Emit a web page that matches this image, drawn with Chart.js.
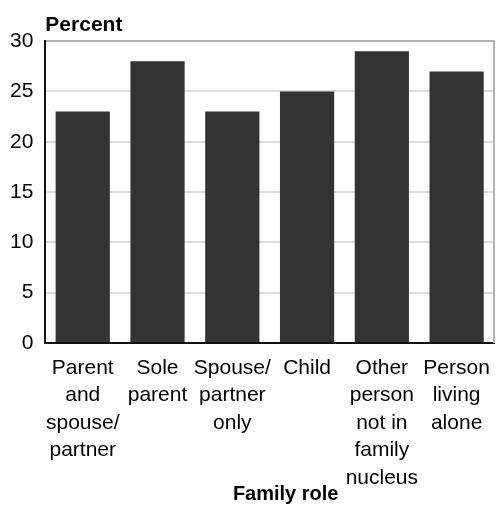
<!DOCTYPE html>
<html>
<head>
<meta charset="utf-8">
<script src="https://cdn.jsdelivr.net/npm/chart.js@4"></script>
<style>
  html, body { margin: 0; padding: 0; background: #fff; }
  #wrap { width: 496px; height: 505px; position: relative; }
</style>
</head>
<body>
<div id="wrap"><canvas id="c" width="496" height="505"></canvas></div>
<script>
const categories = [
  ["Parent", "and", "spouse/", "partner"],
  ["Sole", "parent"],
  ["Spouse/", "partner", "only"],
  ["Child"],
  ["Other", "person", "not in", "family", "nucleus"],
  ["Person", "living", "alone"]
];
const percentValues = [23, 28, 23, 25, 29, 27];
const yTicks = [0, 5, 10, 15, 20, 25, 30];
const yAxisTitle = "Percent";
const xAxisTitle = "Family role";

const FONT = "'Liberation Sans', Arial, sans-serif";

const framePlugin = {
  id: 'frame',
  beforeDatasetsDraw(chart) {
    const { ctx, chartArea: a } = chart;
    ctx.save();
    ctx.strokeStyle = '#b3b3b3';
    ctx.lineWidth = 2;
    ctx.beginPath();
    ctx.moveTo(a.right, a.top - 1);
    ctx.lineTo(a.right, a.bottom);
    ctx.stroke();
    ctx.restore();
  },
  afterDraw(chart) {
    const { ctx, chartArea: a } = chart;
    ctx.save();
    ctx.fillStyle = '#000';
    ctx.font = "bold 20px " + FONT;
    ctx.textAlign = 'center';
    ctx.textBaseline = 'alphabetic';
    ctx.fillText(xAxisTitle, (a.left + a.right) / 2 + 16, 500);
    ctx.restore();
  }
};

new Chart(document.getElementById('c'), {
  type: 'bar',
  data: {
    labels: categories,
    datasets: [{
      data: percentValues,
      backgroundColor: '#333333',
      borderWidth: 0,
      barPercentage: 0.725,
      categoryPercentage: 1.0
    }]
  },
  options: {
    responsive: false,
    animation: false,
    devicePixelRatio: 1,
    layout: { padding: { left: 10, right: 2, top: 5, bottom: 2.5 } },
    plugins: {
      legend: { display: false },
      tooltip: { enabled: false },
      title: {
        display: true,
        text: yAxisTitle,
        align: 'start',
        fullSize: false,
        color: '#000',
        font: { family: FONT, size: 21, weight: 'bold', lineHeight: 1.2 },
        padding: { top: 8, bottom: 3 }
      }
    },
    scales: {
      x: {
        afterFit(scale) { scale.paddingLeft = 0; scale.paddingRight = 0; },
        grid: { display: false, drawTicks: false },
        border: { display: true, color: '#111', width: 2 },
        ticks: {
          color: '#000',
          padding: 11,
          maxRotation: 0,
          autoSkip: false,
          font: { family: FONT, size: 21, lineHeight: 1.31 }
        }
      },
      y: {
        min: 0,
        max: 30,
        afterBuildTicks(scale) { scale.ticks = yTicks.map(v => ({ value: v })); },
        afterFit(scale) { scale.width -= scale.options.ticks.padding; },
        grid: {
          drawTicks: false,
          lineWidth: 2,
          color: (c) => (c.tick && c.tick.value === 30) ? '#b3b3b3' : '#dcdcdc'
        },
        border: { display: true, color: '#111', width: 2 },
        ticks: {
          color: '#000',
          padding: 12,
          font: { family: FONT, size: 21 }
        }
      }
    }
  },
  plugins: [framePlugin]
});
</script>
</body>
</html>
